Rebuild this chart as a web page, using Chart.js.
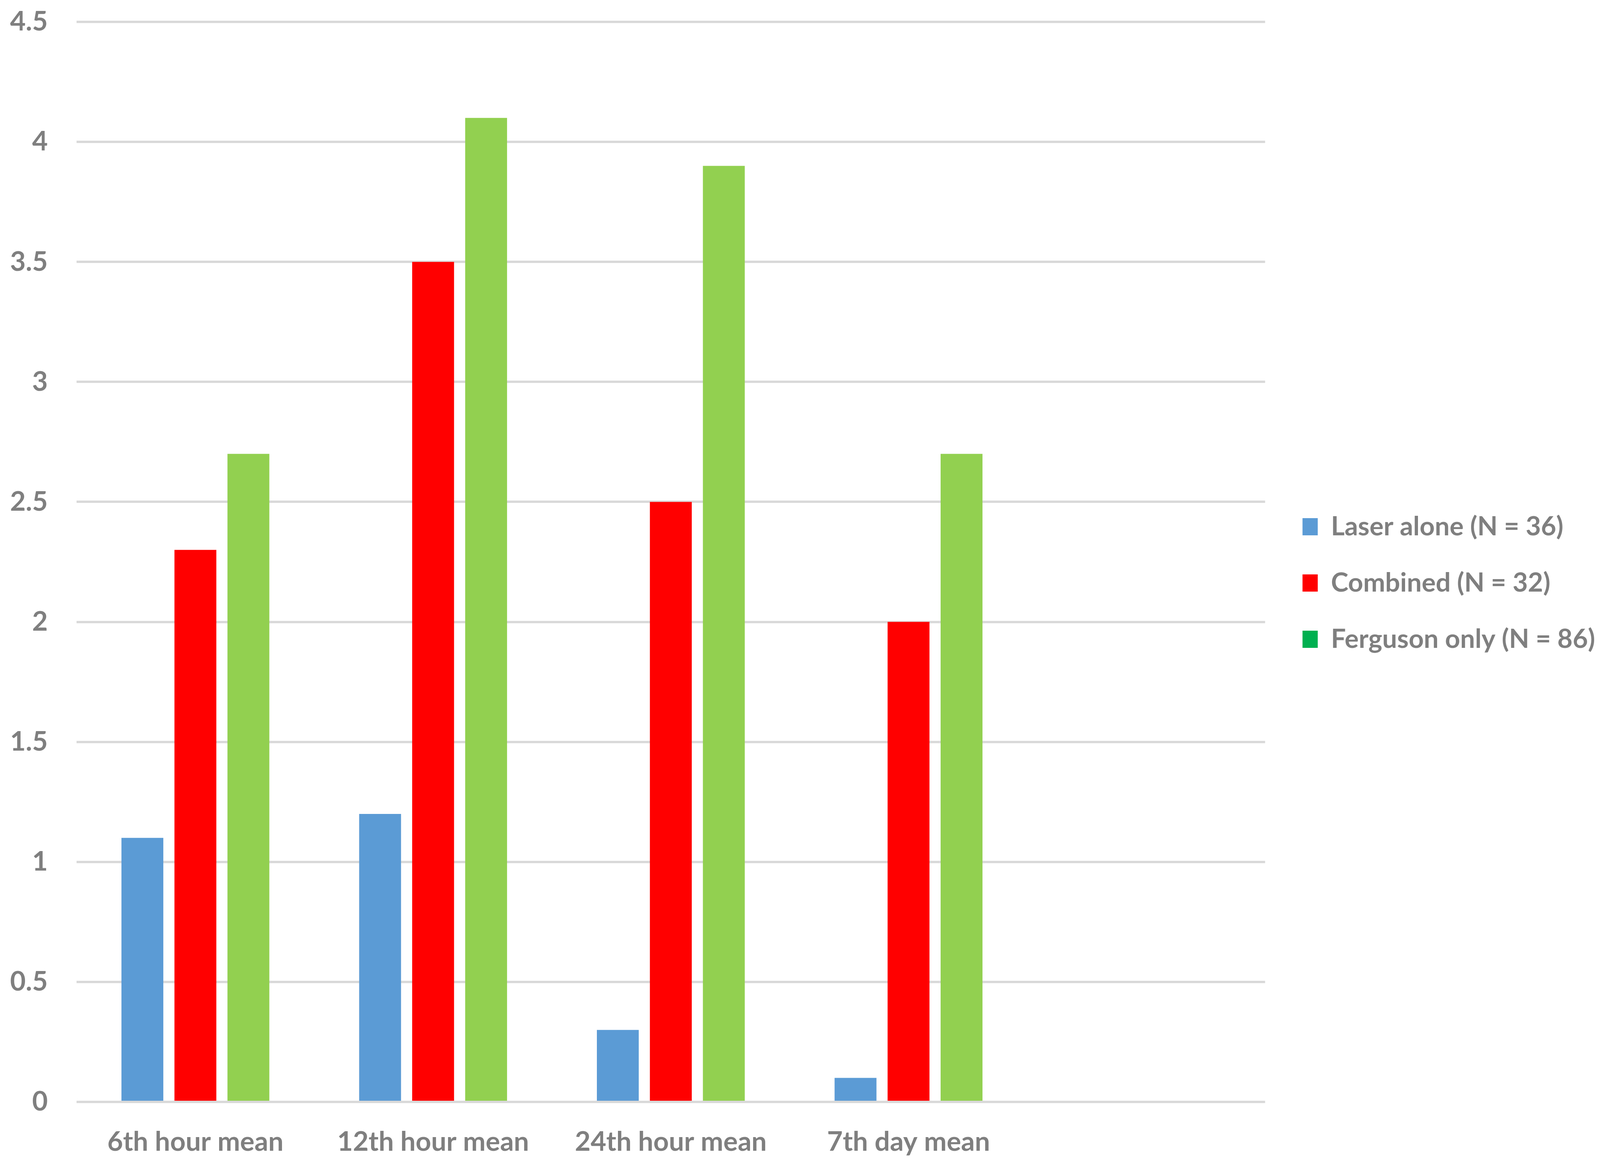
<!DOCTYPE html>
<html>
<head>
<meta charset="utf-8">
<script src="https://cdn.jsdelivr.net/npm/chart.js@4.4.1/dist/chart.umd.min.js"></script>
<style>
  html, body { margin: 0; padding: 0; background: #ffffff; overflow: hidden; }
  canvas { display: block; }
</style>
</head>
<body>
<canvas id="meanChart"></canvas>
<script>
// values
const categories = ["6th hour mean", "12th hour mean", "24th hour mean", "7th day mean", ""];
const seriesNames = ["Laser alone (N = 36)", "Combined (N = 32)", "Ferguson only (N = 86)"];
const laserAlone = [1.1, 1.2, 0.3, 0.1, null];
const combined = [2.3, 3.5, 2.5, 2.0, null];
const fergusonOnly = [2.7, 4.1, 3.9, 2.7, null];
const yTickLabels = ["0", "0.5", "1", "1.5", "2", "2.5", "3", "3.5", "4", "4.5"];

const barColors = ["#5B9BD5", "#FF0000", "#92D050"];
const legendColors = ["#5B9BD5", "#FF0000", "#00B050"]; // legend swatch for Ferguson is a darker green
const textColor = "#7F7F7F";
const gridColor = "#D9D9D9";
const fontFamily = "Lato, 'Open Sans', sans-serif";

// sizes are in pixels of the 4620x2984 reference, scaled to the window
const W = window.innerWidth;
const H = window.innerHeight;
const px = (v) => v * W / 4620;
const py = (v) => v * H / 2984;

const tickFont = { family: fontFamily, size: px(78), weight: "bold" };
const legendFont = { family: fontFamily, size: px(76), weight: "bold" };
const legendPad = py(144) - legendFont.size;
const legendLeft = px(3761) - legendPad;

// fixed legend width so the items land where they should
const legendWidth = {
  id: "legendWidth",
  beforeInit(chart) {
    const fit = chart.legend.fit;
    chart.legend.fit = function () {
      fit.bind(chart.legend)();
      this.width = W - legendLeft;
    };
  },
};

function initChart() {
  const ctx = document.getElementById("meanChart");
  if (!ctx) return;
  ctx.width = W;
  ctx.height = H;
  ctx.style.width = W + "px";
  ctx.style.height = H + "px";

  new Chart(ctx, {
    type: "bar",
    data: {
      labels: categories,
      datasets: [
        { label: seriesNames[0], data: laserAlone, backgroundColor: barColors[0] },
        { label: seriesNames[1], data: combined, backgroundColor: barColors[1] },
        { label: seriesNames[2], data: fergusonOnly, backgroundColor: barColors[2] },
      ],
    },
    options: {
      responsive: false,
      animation: false,
      categoryPercentage: 0.669,
      barPercentage: 0.79,
      layout: { padding: 0 },
      scales: {
        x: {
          grid: { display: false },
          border: { display: false },
          ticks: {
            color: textColor,
            padding: py(53),
            maxRotation: 0,
            autoSkip: false,
            font: tickFont,
          },
          afterFit(scale) {
            scale.height = H - py(2820);
          },
        },
        y: {
          min: 0,
          max: 4.5,
          grid: { color: gridColor, lineWidth: py(6), drawTicks: false },
          border: { display: false },
          ticks: {
            stepSize: 0.5,
            color: textColor,
            padding: px(83),
            font: tickFont,
            callback: function (value, index) {
              return yTickLabels[index];
            },
          },
          afterFit(scale) {
            scale.width = px(221);
            scale.paddingTop = py(56);
            scale.paddingBottom = 0;
          },
        },
        gap: {
          type: "linear",
          position: "right",
          grid: { display: false },
          border: { display: false },
          ticks: { display: false },
          afterFit(scale) {
            scale.width = legendLeft - px(3653);
            scale.paddingTop = 0;
            scale.paddingBottom = 0;
          },
        },
      },
      plugins: {
        tooltip: { enabled: false },
        legend: {
          position: "right",
          labels: {
            boxWidth: px(44),
            boxHeight: py(44),
            padding: legendPad,
            color: textColor,
            font: legendFont,
            generateLabels: function (chart) {
              return chart.data.datasets.map((ds, i) => ({
                text: ds.label,
                fillStyle: legendColors[i],
                strokeStyle: legendColors[i],
                lineWidth: 0,
                fontColor: textColor,
                hidden: false,
                datasetIndex: i,
              }));
            },
          },
        },
      },
    },
    plugins: [legendWidth],
  });
}

if (document.readyState === "loading") {
  document.addEventListener("DOMContentLoaded", initChart);
} else {
  initChart();
}
</script>
</body>
</html>
